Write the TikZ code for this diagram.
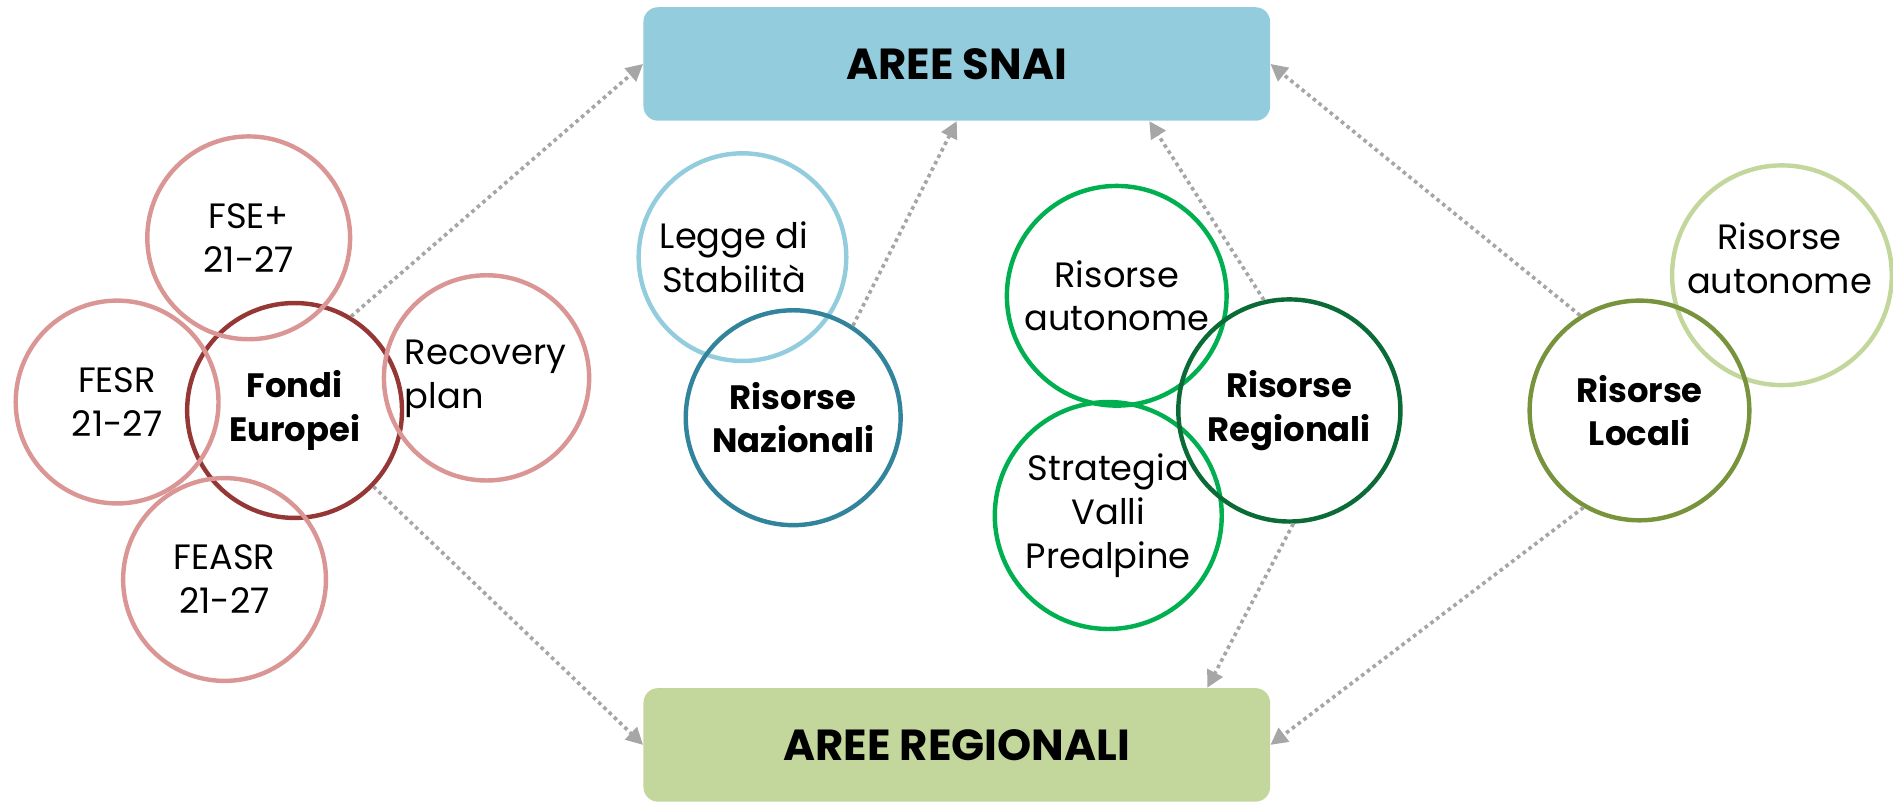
\documentclass[tikz,border=0pt]{standalone}
\usepackage{fontspec}
\setmainfont{Poppins}
\usetikzlibrary{arrows.meta}
\definecolor{lightred}{HTML}{D99694}
\definecolor{darkred}{HTML}{953735}
\definecolor{lightblue}{HTML}{93CDDD}
\definecolor{teal}{HTML}{31849B}
\definecolor{midgreen}{HTML}{00B050}
\definecolor{darkgreen}{HTML}{0A6B36}
\definecolor{lightolive}{HTML}{C3D69B}
\definecolor{olive}{HTML}{77933C}
\definecolor{arrowgray}{HTML}{A6A6A6}
\begin{document}
\begin{tikzpicture}[x=0.6pt,y=-0.6pt,
  ring/.style={circle,draw=#1,line width=2.2pt,inner sep=0pt,align=center,
    font=\fontsize{17.5}{21.8}\selectfont},
  bring/.style={ring=#1,font=\fontsize{16.8}{21.6}\selectfont\bfseries},
  txt/.style={inner sep=0pt,align=center,font=\fontsize{17.5}{21.8}\selectfont},
  area/.style={rounded corners=7.2pt,fill=#1,minimum width=311.4pt,minimum height=56.4pt,
    inner sep=0pt,font=\fontsize{21.6}{26}\selectfont\bfseries},
  flow/.style={draw=arrowgray,line width=1.8pt,dash pattern=on 1.8pt off 1.8pt,
    -{Triangle[length=8.4pt,width=8.4pt]}}]
\useasboundingbox (0,0) rectangle (1568,665);

% target boxes
\node[area=lightblue] (snai) at (792.5,53) {AREE SNAI};
\node[area=lightolive] (reg) at (792.5,617) {AREE REGIONALI};

% Fondi Europei group
\node[bring=darkred, minimum size=106.8pt] (fondi) at (244,340) {Fondi\\Europei};
\node[ring=lightred, minimum size=100.8pt] (fse) at (206,197) {FSE+\\21-27};
\node[ring=lightred, minimum size=100.8pt] (fesr) at (97,333) {FESR\\21-27};
\node[ring=lightred, minimum size=102pt] (recov) at (403,313) {};
\node[txt, align=left, anchor=west] (recovtxt) at (335,314) {Recovery\\plan};
\node[ring=lightred, minimum size=100.8pt] (feasr) at (186,480) {FEASR\\21-27};

% Nazionali group
\node[ring=lightblue, minimum size=103.2pt] (legge) at (615,213) {};
\node[txt] (leggetxt) at (608,213) {Legge di\\Stabilità};
\node[bring=teal, minimum size=106.8pt] (naz) at (657,346) {Risorse\\Nazionali};

% Regionali group
\node[ring=midgreen, minimum size=109.2pt] (regaut) at (925,245) {Risorse\\autonome};
\node[ring=midgreen, minimum size=112.8pt] (valli) at (918,427) {Strategia\\Valli\\Prealpine};
\node[bring=darkgreen, minimum size=110.4pt] (regris) at (1068,340) {Risorse\\Regionali};

% Locali group
\node[ring=lightolive, minimum size=109.2pt] (locaut) at (1476,228) {};
\node[txt] (locauttxt) at (1474,214) {Risorse\\autonome};
\node[bring=olive, minimum size=109.2pt] (loc) at (1358,340) {Risorse\\Locali};

% connectors
\draw[flow] (fondi.59) -- (snai.west);
\draw[flow] (fondi.-44) -- (reg.west);
\draw[flow] (naz.57) -- (snai.south);
\draw[flow] (regris.103) -- ([xshift=95.7pt]snai.south);
\draw[flow] (regris.-88) -- ([xshift=124.5pt]reg.north);
\draw[flow] (loc.122) -- (snai.east);
\draw[flow] (loc.-120) -- (reg.east);
\end{tikzpicture}
\end{document}
